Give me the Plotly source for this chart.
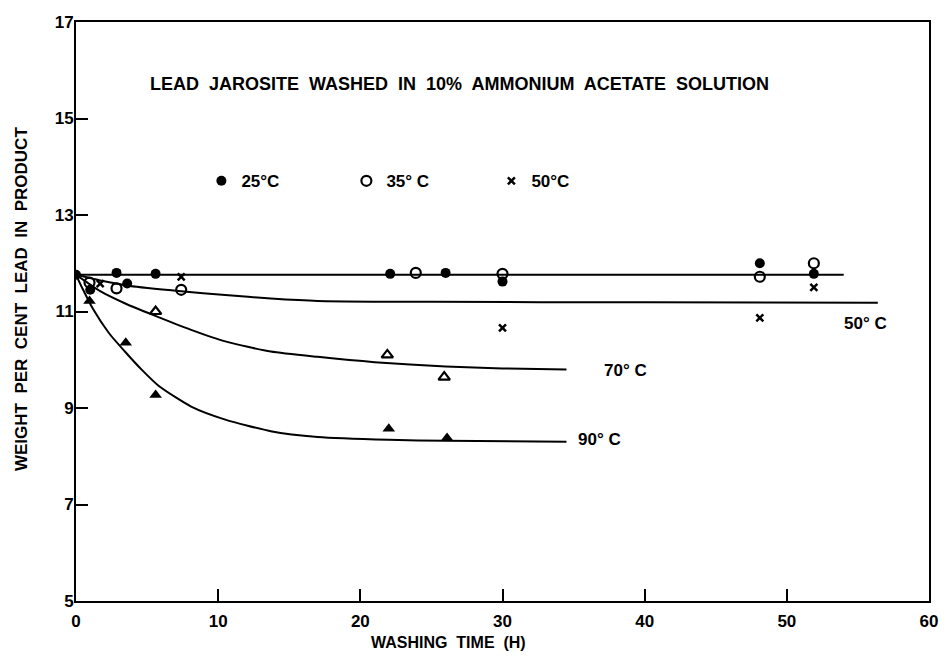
import plotly.graph_objects as go

# Measured points: washing time (h) vs. weight per cent lead in product
t25 = [0, 1.0, 2.85, 3.6, 5.6, 22.1, 26.0, 30.0, 48.1, 51.9]
pb25 = [11.76, 11.45, 11.8, 11.58, 11.78, 11.78, 11.8, 11.62, 12.0, 11.78]

t35 = [0.95, 2.85, 7.4, 23.9, 30.0, 48.1, 51.9]
pb35 = [11.6, 11.48, 11.45, 11.8, 11.78, 11.72, 12.0]

t50 = [1.7, 7.4, 30.0, 48.1, 51.9]
pb50 = [11.58, 11.72, 10.66, 10.87, 11.5]

t70 = [5.6, 21.9, 25.9]
pb70 = [11.0, 10.1, 9.64]

t90 = [0.95, 3.5, 5.6, 22.0, 26.1]
pb90 = [11.22, 10.35, 9.27, 8.57, 8.38]

# Smooth curves drawn through the data
curve_flat_t = [0, 54]
curve_flat_pb = [11.76, 11.76]

curve50_t = [0, 1.9, 3.8, 7.4, 10.5, 13.7, 17, 25, 40, 56.4]
curve50_pb = [11.76, 11.63, 11.53, 11.42, 11.34, 11.27, 11.22, 11.2, 11.19, 11.18]

curve70_t = [0, 0.8, 1.7, 3.5, 5.4, 8.1, 10.5, 13.7, 17, 21, 26, 30, 34.5]
curve70_pb = [11.76, 11.6, 11.42, 11.16, 10.93, 10.62, 10.38, 10.17, 10.06, 9.95, 9.86, 9.82, 9.8]

curve90_t = [0, 0.5, 1.2, 2.3, 3.5, 4.6, 5.85, 8.1, 10.5, 13.7, 17, 22, 26, 34.5]
curve90_pb = [11.76, 11.45, 11.05, 10.56, 10.15, 9.8, 9.45, 9.03, 8.76, 8.52, 8.4, 8.34, 8.32, 8.3]

x_ticks = [0, 10, 20, 30, 40, 50, 60]
y_ticks = [5, 7, 9, 11, 13, 15, 17]

FONT = "Liberation Sans"
INK = "black"

fig = go.Figure()

line_style = dict(color=INK, width=2, shape="spline", smoothing=0.6)
for cx, cy in [(curve_flat_t, curve_flat_pb), (curve50_t, curve50_pb),
               (curve70_t, curve70_pb), (curve90_t, curve90_pb)]:
    fig.add_trace(go.Scatter(x=cx, y=cy, mode="lines", line=line_style,
                             showlegend=False, hoverinfo="skip"))

fig.add_trace(go.Scatter(
    x=t25, y=pb25, mode="markers", name="25°C",
    marker=dict(symbol="circle", size=10, color=INK, line=dict(width=0))))
fig.add_trace(go.Scatter(
    x=t35, y=pb35, mode="markers", name="35° C",
    marker=dict(symbol="circle-open", size=10, color=INK, line=dict(width=2.2))))
fig.add_trace(go.Scatter(
    x=t50, y=pb50, mode="markers", name="50°C",
    marker=dict(symbol="x-thin-open", size=7, color=INK, line=dict(width=2.5))))
fig.add_trace(go.Scatter(
    x=t70, y=pb70, mode="markers", showlegend=False,
    marker=dict(symbol="triangle-up-open", size=10, color=INK, line=dict(width=2.2))))
fig.add_trace(go.Scatter(
    x=t90, y=pb90, mode="markers", showlegend=False,
    marker=dict(symbol="triangle-up", size=11, color=INK, line=dict(width=0))))

text_font = dict(family=FONT, size=17, color=INK, weight="bold")
title_font = dict(family=FONT, size=18, color=INK, weight="bold")
SP = "\u00a0 "

annotations = [
    dict(x=0.45, y=0.893, xref="paper", yref="paper",
         text=SP.join(["LEAD", "JAROSITE", "WASHED", "IN", "10%", "AMMONIUM", "ACETATE", "SOLUTION"]),
         showarrow=False, font=title_font, xanchor="center", yanchor="middle"),
    dict(x=0.437, y=-0.071, xref="paper", yref="paper",
         text=SP.join(["WASHING", "TIME", "(H)"]),
         showarrow=False, font=dict(family=FONT, size=16, color=INK, weight="bold"),
         xanchor="center", yanchor="middle"),
    dict(x=-0.063, y=0.522, xref="paper", yref="paper", textangle=-90,
         text=SP.join(["WEIGHT", "PER", "CENT", "LEAD", "IN", "PRODUCT"]),
         showarrow=False, font=dict(family=FONT, size=17, color=INK, weight="bold"),
         xanchor="center", yanchor="middle"),
    dict(x=53.9, y=10.75, xref="x", yref="y", text="50° C", showarrow=False,
         font=text_font, xanchor="left", yanchor="middle"),
    dict(x=37.0, y=9.77, xref="x", yref="y", text="70° C", showarrow=False,
         font=text_font, xanchor="left", yanchor="middle"),
    dict(x=35.2, y=8.35, xref="x", yref="y", text="90° C", showarrow=False,
         font=text_font, xanchor="left", yanchor="middle"),
]

axis_common = dict(
    showgrid=False, zeroline=False, showline=True, linecolor=INK, linewidth=2,
    mirror=True, ticks="inside", ticklen=12, tickwidth=1.5, tickcolor=INK,
    tickfont=dict(family=FONT, size=17, color=INK, weight="bold"),
)

fig.update_layout(
    width=948, height=656,
    margin=dict(l=76, r=10, t=22, b=55),
    paper_bgcolor="white", plot_bgcolor="white",
    annotations=annotations,
    legend=dict(orientation="h", x=0.147, y=0.725, xanchor="left", yanchor="middle",
                font=text_font, bgcolor="rgba(0,0,0,0)",
                entrywidth=100, entrywidthmode="pixels", itemwidth=30),
    xaxis=dict(range=[0, 60], tickvals=x_ticks, ticklabelstandoff=4, **axis_common),
    yaxis=dict(range=[5, 17], tickvals=y_ticks, ticklabelstandoff=-3, **axis_common),
)

fig.write_html("out.html")
